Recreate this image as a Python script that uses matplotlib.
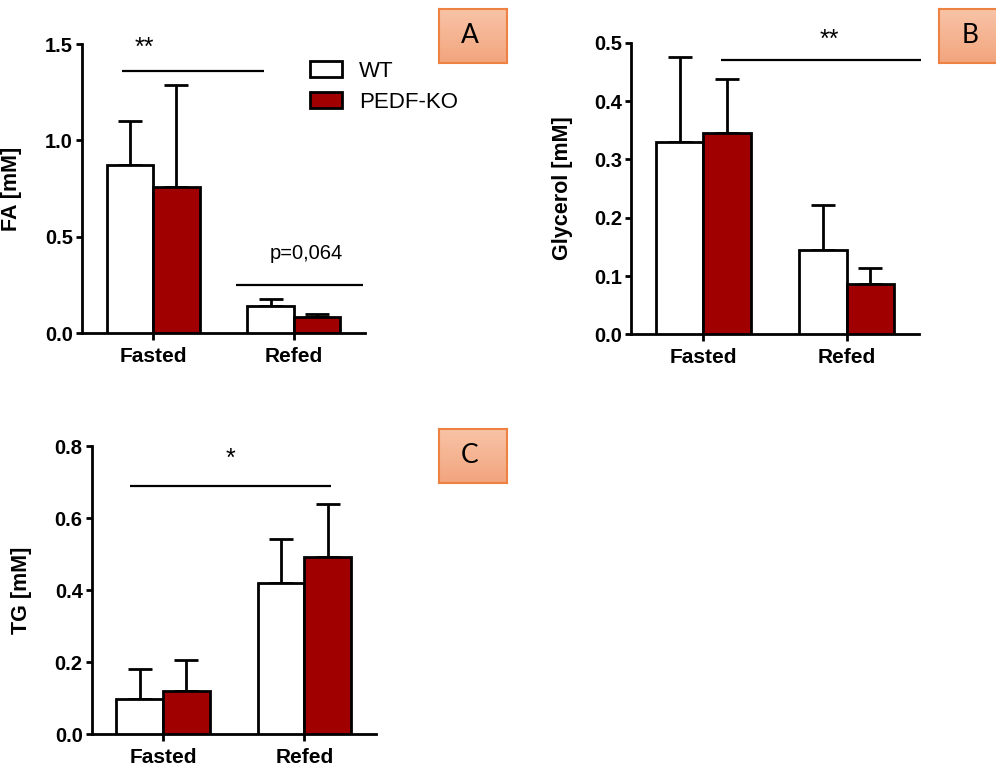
import numpy as np
import matplotlib
matplotlib.use("Agg")
import matplotlib.pyplot as plt
from matplotlib.patches import Patch
from matplotlib.colors import LinearSegmentedColormap

plt.rcParams['font.family'] = ['Liberation Sans', 'DejaVu Sans']

groups = ["Fasted", "Refed"]
series = ["WT", "PEDF-KO"]

fa_wt = [0.872, 0.140]
fa_wt_err = [0.228, 0.038]
fa_ko = [0.756, 0.085]
fa_ko_err = [0.529, 0.012]

gly_wt = [0.329, 0.145]
gly_wt_err = [0.146, 0.076]
gly_ko = [0.345, 0.086]
gly_ko_err = [0.092, 0.027]

tg_wt = [0.097, 0.419]
tg_wt_err = [0.083, 0.122]
tg_ko = [0.120, 0.493]
tg_ko_err = [0.086, 0.145]

RED = "#A00000"
W = 0.33
LW = 2.0

fig = plt.figure(figsize=(9.96, 7.67), dpi=100)

def panel(rect, wt, wt_err, ko, ko_err, ylim, yticks, ylabel, labx):
    ax = fig.add_axes(rect)
    x = np.arange(len(groups))
    ax.bar(x - W/2, wt, W, color="white", edgecolor="black", linewidth=LW, zorder=3)
    ax.bar(x + W/2, ko, W, color=RED, edgecolor="black", linewidth=LW, zorder=3)
    ax.errorbar(x - W/2, wt, yerr=[np.zeros(len(wt)), wt_err], fmt="none",
                ecolor="black", elinewidth=LW, capsize=8.5, capthick=LW, zorder=2)
    ax.errorbar(x + W/2, ko, yerr=[np.zeros(len(ko)), ko_err], fmt="none",
                ecolor="black", elinewidth=LW, capsize=8.5, capthick=LW, zorder=2)
    ax.set_xlim(-0.505, 1.505)
    ax.set_ylim(*ylim)
    ax.set_yticks(yticks)
    ax.set_yticklabels([f"{t:.1f}" for t in yticks], fontsize=14.5, fontweight="bold")
    ax.set_xticks(x)
    ax.set_xticklabels(groups, fontsize=15, fontweight="bold")
    for s in ["top", "right"]:
        ax.spines[s].set_visible(False)
    for s in ["left", "bottom"]:
        ax.spines[s].set_linewidth(LW)
    ax.tick_params(axis="y", length=4.5, width=LW, pad=2)
    ax.tick_params(axis="x", length=5, width=LW, pad=5)
    ax.set_ylabel(ylabel, fontsize=15.5, fontweight="bold")
    ax.yaxis.set_label_coords(labx, 0.5)
    ax.patch.set_alpha(0)
    return ax

def sig(ax, x0, x1, y, text, ty, tx, fs=18):
    ax.plot([x0, x1], [y, y], color="black", lw=1.6, clip_on=False, solid_capstyle="butt")
    ax.text(tx, ty, text, ha="center", va="center", fontsize=fs, clip_on=False)

def label_box(rect, letter):
    bx = fig.add_axes(rect)
    grad = np.linspace(0, 1, 100).reshape(-1, 1)
    cmap = LinearSegmentedColormap.from_list("o", ["#F8C3A6", "#F2A57E"])
    bx.imshow(grad, aspect="auto", cmap=cmap, extent=[0, 1, 0, 1], origin="upper")
    bx.set_xticks([]); bx.set_yticks([])
    for s in bx.spines.values():
        s.set_color("#EE8243"); s.set_linewidth(1.5)
    bx.text(0.45, 0.5, letter, ha="center", va="center", fontsize=19,
            family=["Lato", "DejaVu Sans"], transform=bx.transAxes)

# Panel A
axA = panel([0.0823, 0.5658, 0.2842, 0.3768], fa_wt, fa_wt_err, fa_ko, fa_ko_err,
            (0, 1.5), [0.0, 0.5, 1.0, 1.5], "FA [mM]", -0.212)
sig(axA, -0.22, 0.79, 1.358, "**", 1.48, -0.06)
sig(axA, 0.59, 1.49, 0.25, "p=0,064", 0.415, 1.09, fs=14.5)
axA.legend(handles=[Patch(facecolor="white", edgecolor="black", linewidth=LW, label=series[0]),
                    Patch(facecolor=RED, edgecolor="black", linewidth=LW, label=series[1])],
           loc="upper left", bbox_to_anchor=(0.300, 0.935), bbox_transform=fig.transFigure,
           frameon=False, fontsize=16, handlelength=1.45, handleheight=0.75,
           handletextpad=0.75, labelspacing=0.45, borderpad=0)

# Panel B
axB = panel([0.6335, 0.5641, 0.2892, 0.3802], gly_wt, gly_wt_err, gly_ko, gly_ko_err,
            (0, 0.5), [0.0, 0.1, 0.2, 0.3, 0.4, 0.5], "Glycerol [mM]", -0.2)
sig(axB, 0.12, 1.516, 0.47, "**", 0.505, 0.88)

# Panel C
axC = panel([0.0921, 0.0426, 0.2851, 0.3759], tg_wt, tg_wt_err, tg_ko, tg_ko_err,
            (0, 0.8), [0.0, 0.2, 0.4, 0.6, 0.8], "TG [mM]", -0.209)
sig(axC, -0.235, 1.19, 0.69, "*", 0.765, 0.478)

label_box([0.4408, 0.9179, 0.0683, 0.0704], "A")
label_box([0.9428, 0.9179, 0.0683, 0.0704], "B")
label_box([0.4408, 0.3703, 0.0683, 0.0704], "C")

fig.savefig("out.png", dpi=100)
